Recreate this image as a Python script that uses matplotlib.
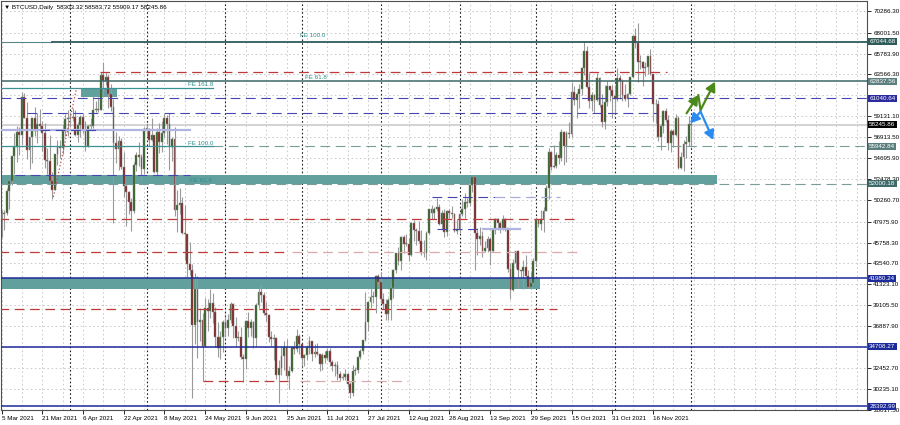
import numpy as np
import pandas as pd
import matplotlib
matplotlib.use("Agg")
import matplotlib.pyplot as plt
import matplotlib.transforms as mtransforms
from matplotlib import font_manager as fm
from matplotlib.patches import Rectangle

# ---------------- data (prices in thousands USD, daily bars from 5 Mar 2021) -------------
start_date = "2021-03-05"
open_k = [
    48.4, 48.8, 48.9, 51.2, 52.3, 54.9, 55.9, 57.5, 57.2, 61.2, 59.0, 55.6, 56.9, 58.9, 57.6, 58.3, 58.1, 57.4, 54.5, 54.4, 52.3, 51.3, 55.1, 55.9, 55.8, 57.6, 58.8,
    58.9, 59.0, 59.1, 57.1, 58.2, 59.1, 57.7, 56.0, 58.1, 58.1, 59.8, 59.9, 59.8, 63.5, 62.9, 63.3, 61.5, 60.1, 56.3, 55.7, 56.5, 53.8, 51.7, 51.1, 50.1, 49.1, 54.0, 55.0, 54.8, 53.6,
    57.8, 57.8, 56.6, 57.2, 53.2, 57.5, 56.4, 57.4, 58.9, 58.3, 55.9, 56.7, 49.2, 49.7, 49.9, 46.8, 46.7, 43.5, 42.9, 37.0, 40.8, 37.3, 37.5, 34.8, 38.8, 38.5, 39.3, 38.4, 35.7, 34.6, 35.7,
    37.3, 36.7, 37.6, 39.2, 36.9, 35.6, 35.8, 33.6, 33.4, 37.4, 36.7, 37.3, 35.6, 39.1, 40.5, 40.2, 38.3, 38.1, 35.8, 35.5, 35.6, 31.7, 32.5, 33.7, 34.7, 31.6, 32.2, 34.7, 34.5, 35.9,
    35.0, 33.5, 33.8, 34.7, 35.3, 33.9, 34.2, 33.9, 32.9, 33.8, 33.5, 34.3, 33.1, 32.7, 32.8, 31.8, 31.4, 31.5, 31.8, 30.8, 29.8, 32.1, 32.3, 33.6, 34.3, 35.4, 37.3, 39.5, 40.0, 40.0, 42.2,
    41.6, 39.8, 39.2, 38.2, 39.7, 40.9, 42.8, 44.6, 43.8, 46.3, 45.6, 45.6, 44.4, 47.8, 47.1, 47.0, 45.9, 44.7, 44.6, 46.8, 49.3, 48.9, 49.3, 49.5, 47.7, 48.9, 46.9, 49.1, 48.9, 48.8, 47.0,
    47.2, 48.8, 49.3, 50.0, 49.9, 51.8, 52.7, 46.8, 46.1, 46.4, 44.9, 45.2, 46.1, 44.9, 47.1, 48.2, 47.8, 47.3, 48.3, 47.3, 43.0, 40.7, 43.6, 44.9, 42.8, 42.7, 43.2, 42.2, 41.0, 41.5,
    43.8, 48.1, 47.7, 48.2, 49.1, 51.5, 55.3, 53.8, 53.9, 55.0, 54.7, 57.5, 56.0, 57.4, 57.3, 61.7, 60.9, 61.5, 62.0, 64.3, 66.0, 62.2, 60.7, 61.4, 60.9, 63.2, 60.3, 58.5, 60.6, 62.3, 61.9,
    61.3, 61.0, 63.2, 62.9, 61.4, 61.0, 61.5, 63.3, 67.6, 66.9, 64.9, 64.9, 64.2, 64.4, 65.5, 63.6, 60.4, 60.4, 56.9, 58.1, 59.7, 58.7, 56.3, 57.6, 57.2, 58.9, 53.7, 54.8, 56.2, 56.4,
    58.30,
]
high_k = [
    49.2, 49.2, 51.5, 52.4, 54.9, 57.4, 58.1, 58.0, 61.7, 61.6, 60.6, 56.9, 58.9, 60.1, 59.5, 59.9, 58.6, 58.4, 55.8, 57.2, 53.2, 55.1, 56.6, 56.6, 58.3, 59.4, 59.8,
    59.6, 60.0, 59.8, 58.5, 59.3, 59.5, 58.6, 58.2, 58.9, 61.3, 60.7, 61.2, 63.8, 64.9, 63.8, 63.6, 62.5, 61.0, 57.5, 57.0, 56.8, 55.4, 52.1, 51.2, 50.5, 54.3, 55.4, 56.4, 55.1, 58.0,
    58.4, 57.9, 58.9, 57.2, 57.9, 58.4, 58.6, 59.5, 59.3, 59.5, 56.9, 58.0, 51.3, 51.5, 50.6, 49.7, 46.7, 45.8, 43.5, 42.5, 42.2, 38.8, 38.3, 39.9, 39.8, 40.8, 40.4, 38.9, 37.3, 36.4, 37.5,
    37.9, 38.2, 39.5, 39.3, 37.9, 36.4, 36.8, 34.0, 37.5, 38.4, 37.7, 37.4, 39.3, 41.0, 41.3, 40.5, 39.5, 38.2, 36.4, 36.1, 35.7, 33.3, 34.8, 35.3, 35.5, 32.7, 34.7, 35.3, 36.6, 36.1,
    35.0, 33.9, 34.9, 35.9, 35.3, 35.0, 35.1, 33.9, 34.1, 34.3, 34.6, 34.6, 33.3, 33.1, 33.2, 32.2, 31.9, 32.4, 31.9, 31.0, 32.8, 32.6, 33.6, 34.5, 35.4, 40.5, 39.5, 40.9, 40.6, 42.3, 42.4,
    42.6, 40.4, 39.8, 39.9, 41.4, 43.0, 44.7, 45.3, 46.4, 46.6, 46.7, 46.2, 47.9, 48.1, 47.3, 48.0, 47.1, 46.0, 47.0, 49.3, 49.7, 49.5, 50.5, 49.8, 49.2, 49.3, 49.2, 49.3, 49.6, 48.9, 48.2,
    48.9, 50.4, 51.0, 50.5, 51.9, 52.8, 52.9, 47.3, 47.4, 47.0, 45.9, 46.4, 46.3, 47.2, 48.4, 48.4, 48.0, 48.7, 48.4, 47.3, 43.6, 44.0, 44.9, 45.0, 42.9, 43.9, 44.4, 42.8, 42.6, 44.1,
    48.5, 48.3, 49.2, 49.5, 51.9, 55.8, 55.3, 56.1, 55.4, 56.5, 57.8, 57.6, 57.6, 58.5, 62.8, 62.3, 61.7, 62.6, 64.4, 67.0, 66.6, 63.7, 61.7, 61.5, 63.7, 63.3, 61.5, 62.4, 62.9, 62.3, 62.4,
    62.4, 64.3, 63.5, 63.1, 62.6, 61.6, 63.3, 67.7, 68.5, 69.0, 65.6, 65.0, 64.9, 65.5, 66.3, 63.6, 61.0, 60.9, 58.3, 59.8, 60.0, 59.3, 57.8, 57.8, 59.4, 59.2, 55.3, 56.6, 57.0, 59.2,
    58.58,
]
low_k = [
    46.3, 47.1, 48.7, 49.3, 51.9, 53.0, 54.3, 55.0, 56.1, 59.0, 54.6, 53.6, 54.2, 57.0, 56.3, 57.8, 55.5, 53.7, 53.0, 52.0, 50.4, 51.3, 54.0, 54.7, 55.1, 57.0, 57.0,
    58.0, 58.6, 57.0, 56.4, 56.9, 57.4, 55.5, 55.9, 57.7, 57.9, 59.6, 59.6, 59.8, 61.3, 62.4, 60.0, 59.7, 47.8, 54.2, 53.4, 53.6, 50.6, 47.5, 48.8, 47.0, 48.9, 53.3, 53.9, 52.4, 53.0,
    57.0, 56.0, 56.5, 53.1, 52.9, 55.2, 55.4, 56.9, 56.2, 53.4, 54.4, 48.6, 46.9, 48.8, 46.7, 43.9, 42.1, 42.3, 29.3, 35.0, 33.5, 35.3, 31.1, 34.7, 36.4, 37.8, 37.2, 34.7, 33.6, 33.4, 34.2,
    35.7, 35.9, 37.2, 35.6, 34.8, 35.3, 33.4, 31.0, 32.4, 35.8, 35.9, 34.6, 34.8, 38.8, 39.5, 38.1, 37.4, 35.2, 34.8, 33.3, 31.3, 28.8, 31.7, 32.3, 31.3, 30.2, 32.0, 33.9, 34.2, 34.0,
    32.7, 32.7, 33.3, 34.0, 33.2, 33.6, 33.8, 32.1, 32.3, 33.0, 33.3, 32.7, 32.2, 31.6, 31.2, 31.1, 31.2, 31.2, 30.4, 29.3, 29.5, 31.7, 31.9, 33.4, 33.9, 35.3, 36.4, 38.8, 39.3, 38.3, 41.1,
    39.4, 38.7, 37.6, 37.5, 37.5, 39.9, 42.5, 43.4, 42.8, 44.7, 45.4, 43.8, 44.3, 45.9, 45.5, 45.7, 44.4, 44.2, 43.9, 46.7, 48.3, 48.2, 49.1, 47.6, 47.2, 46.3, 46.4, 48.4, 48.4, 46.9, 46.7,
    46.8, 48.6, 48.4, 49.5, 49.6, 51.1, 42.8, 44.4, 45.5, 44.2, 44.8, 44.8, 43.4, 44.8, 46.7, 47.1, 46.8, 47.1, 47.0, 42.6, 39.8, 40.6, 43.1, 40.9, 41.7, 40.8, 42.1, 40.9, 40.8, 41.4,
    43.3, 47.4, 47.1, 46.9, 49.1, 50.4, 53.4, 53.7, 53.7, 54.1, 54.4, 54.0, 54.3, 56.8, 56.9, 60.3, 58.9, 60.0, 61.4, 63.5, 62.1, 60.0, 59.7, 59.5, 60.7, 60.1, 58.0, 57.8, 60.2, 60.7, 59.0,
    59.4, 60.7, 61.0, 60.7, 60.8, 60.1, 61.4, 63.2, 66.4, 62.8, 64.1, 62.3, 63.4, 63.6, 63.5, 58.6, 58.4, 56.5, 55.6, 57.4, 58.5, 55.6, 55.4, 55.9, 57.0, 53.6, 53.6, 53.3, 54.7, 56.0,
    55.91,
]
close_k = [
    48.8, 48.9, 51.2, 52.3, 54.9, 55.9, 57.5, 57.2, 61.2, 59.0, 55.6, 56.9, 58.9, 57.6, 58.3, 58.1, 57.4, 54.5, 54.4, 52.3, 51.3, 55.1, 55.9, 55.8, 57.6, 58.8, 58.9,
    59.0, 59.1, 57.1, 58.2, 59.1, 57.7, 56.0, 58.1, 58.1, 59.8, 59.9, 59.8, 63.5, 62.9, 63.3, 61.5, 60.1, 56.3, 55.7, 56.5, 53.8, 51.7, 51.1, 50.1, 49.1, 54.0, 55.0, 54.8, 53.6, 57.8,
    57.8, 56.6, 57.2, 53.2, 57.5, 56.4, 57.4, 58.9, 58.3, 55.9, 56.7, 49.2, 49.7, 49.9, 46.8, 46.7, 43.5, 42.9, 37.0, 40.8, 37.3, 37.5, 34.8, 38.8, 38.5, 39.3, 38.4, 35.7, 34.6, 35.7, 37.3,
    36.7, 37.6, 39.2, 36.9, 35.6, 35.8, 33.6, 33.4, 37.4, 36.7, 37.3, 35.6, 39.1, 40.5, 40.2, 38.3, 38.1, 35.8, 35.5, 35.6, 31.7, 32.5, 33.7, 34.7, 31.6, 32.2, 34.7, 34.5, 35.9, 35.0,
    33.5, 33.8, 34.7, 35.3, 33.9, 34.2, 33.9, 32.9, 33.8, 33.5, 34.3, 33.1, 32.7, 32.8, 31.8, 31.4, 31.5, 31.8, 30.8, 29.8, 32.1, 32.3, 33.6, 34.3, 35.4, 37.3, 39.5, 40.0, 40.0, 42.2, 41.6,
    39.8, 39.2, 38.2, 39.7, 40.9, 42.8, 44.6, 43.8, 46.3, 45.6, 45.6, 44.4, 47.8, 47.1, 47.0, 45.9, 44.7, 44.6, 46.8, 49.3, 48.9, 49.3, 49.5, 47.7, 48.9, 46.9, 49.1, 48.9, 48.8, 47.0, 47.2,
    48.8, 49.3, 50.0, 49.9, 51.8, 52.7, 46.8, 46.1, 46.4, 44.9, 45.2, 46.1, 44.9, 47.1, 48.2, 47.8, 47.3, 48.3, 47.3, 43.0, 40.7, 43.6, 44.9, 42.8, 42.7, 43.2, 42.2, 41.0, 41.5, 43.8,
    48.1, 47.7, 48.2, 49.1, 51.5, 55.3, 53.8, 53.9, 55.0, 54.7, 57.5, 56.0, 57.4, 57.3, 61.7, 60.9, 61.5, 62.0, 64.3, 66.0, 62.2, 60.7, 61.4, 60.9, 63.2, 60.3, 58.5, 60.6, 62.3, 61.9, 61.3,
    61.0, 63.2, 62.9, 61.4, 61.0, 61.5, 63.3, 67.6, 66.9, 64.9, 64.9, 64.2, 64.4, 65.5, 63.6, 60.4, 60.4, 56.9, 58.1, 59.7, 58.7, 56.3, 57.6, 57.2, 58.9, 53.7, 54.8, 56.2, 56.4, 58.3,
    58.25,
]
header_ohlc = [58303.32, 58583.72, 55909.17, 58245.86]
symbol_label = "BTCUSD,Daily"

# right-axis tick values (as printed by the terminal); two are hidden behind price boxes
ytick_values = [70286.30, 68001.50, 65783.90, 63566.30, 61348.70, 59131.10, 56913.50,
                54695.90, 52478.30, 50260.70, 47975.90, 45758.30, 43540.70, 41323.10,
                39105.50, 36887.90, 34670.30, 32452.70, 30235.10, 28017.50]
hidden_ytick_labels = [61348.70, 34670.30]

# horizontal level objects with price boxes
box_prices = [67044.68, 62837.56, 61040.64, 58245.86, 55942.84, 52000.18, 41980.24, 34708.27, 28392.99]
box_colors = ["#2f5a5a", "#5d7f7f", "#2b2b9e", "#000000", "#5a7e7e", "#3e6a6a", "#1c2a9a", "#1c2a9a", "#1c2a9a"]

# support/resistance zones: (day_start, day_end, price_low, price_high)
zones = [(31.2, 45.4, 61176, 62129), (-1.0, 281.1, 52000, 52965), (-1.0, 211.6, 40835, 41980)]

# trend-line segments: (price, day_start, day_end, kind)
segments = [
    (63824, 38.7, 261.5, "red"), (59480, 10.0, 257.6, "navy"),
    (57732, -1.0, 74.1, "lav_solid"), (57732, 15.1, 37.5, "navy"),
    (52912, 5.3, 74.1, "navy"),
    (50581, 169.1, 193.9, "navy"), (50581, 193.9, 219.4, "lav"),
    (47191, 171.1, 188.0, "navy"), (47191, 189.2, 203.7, "lav_solid"),
    (48251, -1.0, 226.5, "red"), (44754, -1.0, 112.6, "red"), (44754, 114.1, 226.1, "pink"),
    (38711, -1.0, 218.3, "red"), (31088, 79.2, 112.6, "red"), (31088, 117.3, 159.7, "pink"),
]
# Fibonacci expansion lines: (price, day_start, day_end)
fe_lines = [(62129, -1.0, 83.1), (55942.84, -1.0, 83.1)]
fe_labels = [("FE 100.0", 117.3, 67640), ("FE 61.8", 119.3, 63290), ("FE 161.8", 73.3, 62450),
             ("FE 100.0", 73.3, 56300), ("FE 61.8", 74.1, 52380)]
fe_dotted = ([20.4, 29.5], [50582, 62129])

# scenario arrows (day, price)
green_path = [(269.2, 59448), (273.8, 61387), (274.7, 59798), (280.4, 62796)]
blue_path = [(270.6, 58389), (274.7, 59618), (279.7, 56620)]

# ---------------- figure -----------------------------------------------------------
names = {f.name for f in fm.fontManager.ttflist}
if "Liberation Sans Narrow" in names:
    FONT, FS = ["Liberation Sans Narrow", "DejaVu Sans"], 5.3
else:
    FONT, FS = ["Liberation Sans", "DejaVu Sans"], 4.5
plt.rcParams["font.family"] = FONT
plt.rcParams["lines.scale_dashes"] = False

W, H = 900, 425
fig = plt.figure(figsize=(W / 100, H / 100), dpi=100)
fig.patch.set_facecolor("white")
ax = fig.add_axes([1 / W, 15 / H, 866 / W, 409 / H])
XMIN, XMAX = -0.2, 340.1
YMIN, YMAX = 28016, 71346
ax.set_xlim(XMIN, XMAX)
ax.set_ylim(YMIN, YMAX)

dates = pd.date_range(start_date, periods=len(close_k), freq="D")
x = np.arange(len(close_k))
o = np.array(open_k) * 1000
h = np.array(high_k) * 1000
l = np.array(low_k) * 1000
c = np.array(close_k) * 1000

# grid
grid_kw = dict(color="#c4c4c4", lw=0.6, linestyle=(0, (1.2, 1.8)), zorder=0)
for yv in ytick_values:
    ax.axhline(yv, **grid_kw)
for xv in np.arange(0, XMAX, 8):
    ax.axvline(xv, **grid_kw)
# month separators
for i, d in enumerate(dates):
    if d.day == 1:
        ax.axvline(x[i], color="#202020", lw=0.8, linestyle=(0, (1.2, 1.6)), zorder=0.5)

# zones
for d0, d1, p0, p1 in zones:
    ax.add_patch(Rectangle((d0, p0), d1 - d0, p1 - p0, facecolor="#62a09e", edgecolor="none", zorder=1))

# candles
ax.vlines(x, l, h, color="#9a9a9a", lw=0.8, zorder=2)
up = c >= o
body_bottom = np.minimum(o, c)
body_h = np.maximum(np.abs(c - o), 60)
ax.bar(x[up], body_h[up], bottom=body_bottom[up], width=0.72, color="#2c5e1e",
       edgecolor="#8c8c8c", linewidth=0.35, zorder=3)
ax.bar(x[~up], body_h[~up], bottom=body_bottom[~up], width=0.72, color="#7d1c1c",
       edgecolor="#8c8c8c", linewidth=0.35, zorder=3)

# level lines
ax.plot([XMIN, 19.8], [box_prices[0]] * 2, color="#5a8686", lw=0.8, zorder=4)
ax.plot([19.8, XMAX], [box_prices[0]] * 2, color="#2f5a5a", lw=1.3, zorder=4)
ax.axhline(box_prices[1], color="#3e6868", lw=1.1, zorder=4)
ax.axhline(box_prices[2], color="#4646b0", lw=0.8, linestyle=(0, (7, 4)), zorder=4)
ax.axhline(box_prices[3], color="#d2d2d2", lw=1.4, zorder=1.5)
ax.plot([83.1, XMAX], [box_prices[4]] * 2, color="#7c9c9c", lw=0.8, linestyle=(0, (7, 4)), zorder=4)
ax.axhline(box_prices[5], color="#7c9c9c", lw=0.8, linestyle=(0, (7, 4)), zorder=4)
for p in box_prices[6:]:
    ax.axhline(p, color="#1c2a9a", lw=1.1, zorder=4)

style = {
    "red": dict(color="#bd3a3a", lw=0.9, linestyle=(0, (7, 4))),
    "pink": dict(color="#dca8a8", lw=0.9, linestyle=(0, (7, 4))),
    "navy": dict(color="#4646b0", lw=0.8, linestyle=(0, (7, 4))),
    "lav": dict(color="#a8acdc", lw=0.9, linestyle=(0, (7, 4))),
    "lav_solid": dict(color="#b0b4e2", lw=1.6, linestyle="-"),
}
for p, d0, d1, kind in segments:
    ax.plot([d0, d1], [p, p], zorder=4, **style[kind])

for p, d0, d1 in fe_lines:
    ax.plot([d0, d1], [p, p], color="#3a9292", lw=0.9, zorder=4)
ax.plot(fe_dotted[0], fe_dotted[1], color="#c04040", lw=0.8, linestyle=(0, (1, 1.5)), zorder=4)
for txt, d, p in fe_labels:
    ax.text(d, p, txt, fontsize=FS, color="#2f8c8c", va="center", ha="left", zorder=5)

# arrows
def arrow(p0, p1, col, head=True):
    ax.annotate("", xy=p1, xytext=p0, zorder=6,
                arrowprops=dict(arrowstyle="-|>,head_length=0.55,head_width=0.3" if head else "-",
                                color=col, lw=1.6, shrinkA=0, shrinkB=0))

arrow(green_path[0], green_path[1], "#4b8a1a")
arrow(green_path[1], green_path[2], "#4b8a1a", head=False)
arrow(green_path[2], green_path[3], "#4b8a1a")
arrow(blue_path[1], blue_path[0], "#2a8cf0")
arrow(blue_path[1], blue_path[2], "#2a8cf0")

# axes / ticks
for s in ax.spines.values():
    s.set_color("#505050")
    s.set_linewidth(0.8)
ax.yaxis.tick_right()
ax.set_yticks(ytick_values)
ax.set_yticklabels(["" if v in hidden_ytick_labels else f"{v:.2f}" for v in ytick_values])
ax.tick_params(axis="y", direction="out", length=3, width=0.6, pad=1.5, labelsize=FS, colors="black")
xt = x[::16]
ax.set_xticks(xt)
ax.set_xticklabels([f"{d.day} {d.strftime('%b %Y')}" for d in dates[::16]], ha="left")
ax.tick_params(axis="x", direction="out", length=3, width=0.6, pad=1.5, labelsize=FS, colors="black")

# price boxes
trans = mtransforms.blended_transform_factory(ax.transAxes, ax.transData)
for p, col in zip(box_prices, box_colors):
    ax.text(1.0025, p, f"{p:.2f}", transform=trans, fontsize=FS, color="white", va="center", ha="left",
            clip_on=False, zorder=10,
            bbox=dict(boxstyle="square,pad=0.18", facecolor=col, edgecolor="none"))

# header
fig.text(4 / W, 1 - 7 / H, "\u25bc " + symbol_label + "  " + " ".join(f"{v:.2f}" for v in header_ohlc),
         fontsize=FS, va="center", ha="left", color="black", family=FONT)

fig.savefig("out.png", dpi=100, facecolor="white")
